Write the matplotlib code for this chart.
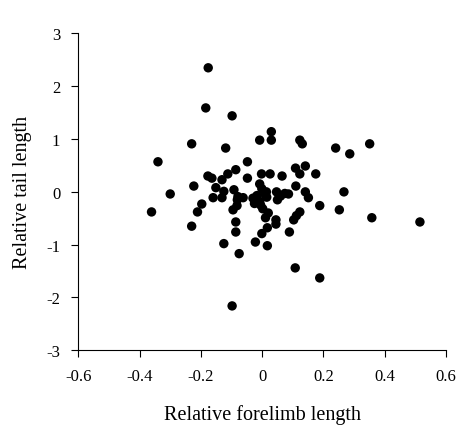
import matplotlib
matplotlib.use("Agg")
from matplotlib import pyplot as plt

plt.rcParams['font.family'] = ['Liberation Serif', 'DejaVu Serif']
plt.rcParams['axes.unicode_minus'] = False

# relative forelimb length (x) and relative tail length (y)
forelimb = [-0.176, -0.184, -0.098, 0.030, 0.030, -0.008, -0.230, -0.119, 0.123, 0.131,
            0.240, 0.286, 0.351, -0.340, -0.048, 0.141, 0.109, -0.086, -0.112, -0.002,
            0.026, 0.065, 0.123, 0.175, -0.177, -0.164, -0.131, -0.048, -0.223, -0.008,
            0.110, -0.151, -0.125, -0.092, -0.300, 0.267, 0.141, 0.151, 0.086, 0.047,
            0.014, -0.160, -0.131, -0.062, -0.081, -0.197, 0.188, -0.211, -0.361, 0.252,
            -0.095, -0.082, 0.123, 0.112, 0.103, 0.011, 0.045, 0.045, 0.358, 0.515,
            -0.086, -0.230, 0.017, -0.086, 0.089, -0.001, -0.125, -0.022, 0.017, -0.075,
            0.108, 0.188, -0.098,
            -0.001, 0.074, -0.017, -0.008, 0.002, -0.025, -0.030, 0.015, 0.010, 0.020,
            -0.005, 0.050, 0.060, -0.079]
tail = [2.35, 1.59, 1.44, 1.14, 0.98, 0.98, 0.91, 0.83, 0.98, 0.91,
        0.83, 0.72, 0.91, 0.57, 0.57, 0.49, 0.45, 0.42, 0.34, 0.34,
        0.34, 0.30, 0.34, 0.34, 0.30, 0.26, 0.23, 0.26, 0.11, 0.15,
        0.11, 0.08, 0.01, 0.04, -0.04, 0.00, 0.00, -0.11, -0.04, 0.00,
        0.00, -0.11, -0.11, -0.11, -0.15, -0.23, -0.26, -0.38, -0.38, -0.34,
        -0.34, -0.26, -0.38, -0.45, -0.53, -0.49, -0.53, -0.61, -0.49, -0.57,
        -0.57, -0.65, -0.68, -0.76, -0.76, -0.79, -0.98, -0.95, -1.02, -1.17,
        -1.44, -1.63, -2.16,
        0.06, -0.03, -0.07, -0.18, -0.32, -0.22, -0.12, -0.10, -0.05, -0.40,
        -0.25, -0.15, -0.08, -0.09]

xticks = [-0.6, -0.4, -0.2, 0, 0.2, 0.4, 0.6]
xtick_labels = ['-0.6', '-0.4', '-0.2', '0', '0.2', '0.4', '0.6']
yticks = [-3, -2, -1, 0, 1, 2, 3]

fig = plt.figure(figsize=(4.59, 4.31), dpi=100)
ax = fig.add_axes([0.1706, 0.185, 0.801, 0.735])

ax.scatter(forelimb, tail, s=46, c='black', edgecolors='none', zorder=3)

ax.set_xlim(-0.6, 0.6)
ax.set_ylim(-3, 3)
ax.set_xticks(xticks)
ax.set_xticklabels(xtick_labels)
ax.set_yticks(yticks)
ax.spines['top'].set_visible(False)
ax.spines['right'].set_visible(False)
ax.tick_params(direction='out', length=5, width=0.8, labelsize=12, pad=8)
ax.set_xlabel('Relative forelimb length', fontsize=14.5, labelpad=14)
ax.set_ylabel('Relative tail length', fontsize=14.5, labelpad=10)

fig.savefig('out.png', dpi=100)
